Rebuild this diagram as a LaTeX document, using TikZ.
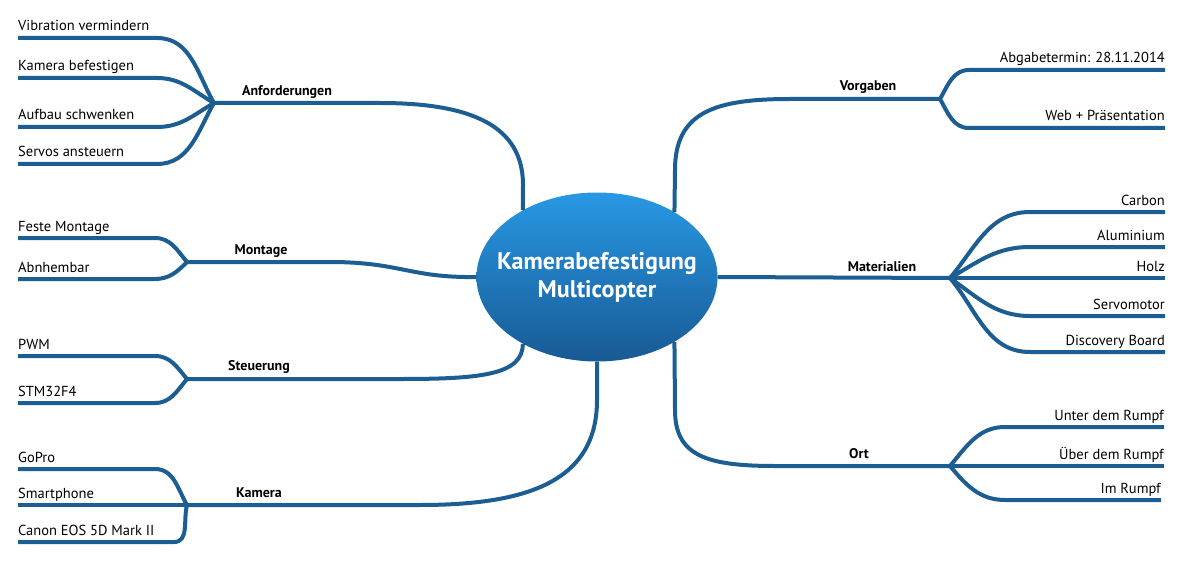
\documentclass[tikz,border=0pt]{standalone}
\usepackage{fontspec}
\setmainfont{PT Sans}
\usetikzlibrary{shapes.geometric}
\definecolor{ast}{RGB}{29,94,146}
\definecolor{kernhell}{RGB}{40,152,228}
\definecolor{kerndunkel}{RGB}{24,90,148}
\begin{document}
\begin{tikzpicture}[x=1pt,y=-1pt,
    zweig/.style={draw=ast,line width=4pt},
    blatt/.style={inner sep=0pt,font=\fontsize{14.5}{16}\selectfont},
    thema/.style={inner sep=0pt,font=\bfseries\fontsize{14}{16}\selectfont}]
      \useasboundingbox (0,0) rectangle (1182,564);

      \node[ellipse,minimum width=241,minimum height=169,inner sep=0pt,
            top color=kernhell,bottom color=kerndunkel] (kern) at (597,277) {};
      \node[text=white,align=center,inner sep=0pt,
            font=\bfseries\fontsize{24}{28}\selectfont] (titel) at (kern.center)
            {Kamerabefestigung\\Multicopter};

      \coordinate (anfJ) at (214,103);
      \coordinate (monJ) at (187,262);
      \coordinate (steJ) at (187,379);
      \coordinate (kamJ) at (187,505);
      \coordinate (vorJ) at (940,99);
      \coordinate (matJ) at (950,278);
      \coordinate (ortJ) at (950,466);

      \node[thema] (anf) at (287,92) {Anforderungen};
      \node[thema] (mon) at (261,251) {Montage};
      \node[thema] (ste) at (259,367) {Steuerung};
      \node[thema] (kam) at (259,493) {Kamera};
      \node[thema] (vor) at (868,87) {Vorgaben};
      \node[thema] (mat) at (882,267) {Materialien};
      \node[thema] (ort) at (859,454) {Ort};

      \draw[zweig] (anfJ) -- (380,103) .. controls (470,103) and (523,125) .. (523,185)
            -- (kern.138);
      \draw[zweig] (monJ) -- (330,262) .. controls (400,262) and (410,278) .. (kern.west);
      \draw[zweig] (steJ) -- (400,379) .. controls (480,379) and (523,375) .. (kern.222);
      \draw[zweig] (kamJ) -- (420,505) .. controls (530,505) and (597,480) .. (597,400)
            -- (kern.south);
      \draw[zweig] (kern.40) -- (675,170) .. controls (675,112) and (715,99) .. (790,99)
            -- (vorJ);
      \draw[zweig] (kern.east) -- (matJ);
      \draw[zweig] (kern.-40) -- (675,410) .. controls (675,455) and (705,466) .. (775,466)
            -- (ortJ);

      \node[blatt,anchor=base west] (vib) at (18,38-7) {Vibration vermindern};
      \node[blatt,anchor=base west] (bef) at (18,78-7) {Kamera befestigen};
      \node[blatt,anchor=base west] (auf) at (18,127-7) {Aufbau schwenken};
      \node[blatt,anchor=base west] (ser) at (18,164-7) {Servos ansteuern};
      \draw[zweig] ([yshift=-7pt]vib.base west) -- (157,38) to[out=0,in=120] (anfJ);
      \draw[zweig] ([yshift=-7pt]bef.base west) -- (157,78) to[out=0,in=150] (anfJ);
      \draw[zweig] ([yshift=-7pt]auf.base west) -- (157,127) to[out=0,in=210] (anfJ);
      \draw[zweig] ([yshift=-7pt]ser.base west) -- (157,164) to[out=0,in=240] (anfJ);

      \node[blatt,anchor=base west] (fes) at (18,238-7) {Feste Montage};
      \node[blatt,anchor=base west] (abn) at (18,279-7) {Abnhembar};
      \draw[zweig] ([yshift=-7pt]fes.base west) -- (155,238) to[out=0,in=130] (monJ);
      \draw[zweig] ([yshift=-7pt]abn.base west) -- (155,279) to[out=0,in=225] (monJ);

      \node[blatt,anchor=base west] (pwm) at (18,356-7) {PWM};
      \node[blatt,anchor=base west] (stm) at (18,403-7) {STM32F4};
      \draw[zweig] ([yshift=-7pt]pwm.base west) -- (155,356) to[out=0,in=130] (steJ);
      \draw[zweig] ([yshift=-7pt]stm.base west) -- (155,403) to[out=0,in=230] (steJ);

      \node[blatt,anchor=base west] (gop) at (18,469-7) {GoPro};
      \node[blatt,anchor=base west] (sma) at (18,505-7) {Smartphone};
      \node[blatt,anchor=base west] (can) at (18,542-7) {Canon EOS 5D Mark II};
      \draw[zweig] ([yshift=-7pt]gop.base west) -- (155,469) to[out=0,in=120] (kamJ);
      \draw[zweig] ([yshift=-7pt]sma.base west) -- (kamJ);
      \draw[zweig] ([yshift=-7pt]can.base west) -- (174,542) to[out=0,in=255] (kamJ);

      \node[blatt,anchor=base east] (abg) at (1165,70-7) {Abgabetermin: 28.11.2014};
      \node[blatt,anchor=base east] (web) at (1165,128-7) {Web + Präsentation};
      \draw[zweig] (vorJ) to[out=60,in=180] (969,70) -- ([yshift=-7pt]abg.base east);
      \draw[zweig] (vorJ) to[out=-60,in=180] (969,128) -- ([yshift=-7pt]web.base east);

      \node[blatt,anchor=base east] (car) at (1165,212-7) {Carbon};
      \node[blatt,anchor=base east] (alu) at (1165,247-7) {Aluminium};
      \node[blatt,anchor=base east] (hol) at (1165,278-7) {Holz};
      \node[blatt,anchor=base east] (svm) at (1165,316-7) {Servomotor};
      \node[blatt,anchor=base east] (dis) at (1165,352-7) {Discovery Board};
      \draw[zweig] (matJ) to[out=50,in=180] (1030,212) -- ([yshift=-7pt]car.base east);
      \draw[zweig] (matJ) to[out=30,in=180] (1030,247) -- ([yshift=-7pt]alu.base east);
      \draw[zweig] (matJ) -- ([yshift=-7pt]hol.base east);
      \draw[zweig] (matJ) to[out=-35,in=180] (1030,316) -- ([yshift=-7pt]svm.base east);
      \draw[zweig] (matJ) to[out=-50,in=180] (1030,352) -- ([yshift=-7pt]dis.base east);

      \node[blatt,anchor=base east] (unt) at (1164,427-7) {Unter dem Rumpf};
      \node[blatt,anchor=base east] (ueb) at (1164,466-7) {Über dem Rumpf};
      \node[blatt,anchor=base east] (imr) at (1161,500-7) {Im Rumpf};
      \draw[zweig] (ortJ) to[out=50,in=180] (1005,427) -- ([yshift=-7pt]unt.base east);
      \draw[zweig] (ortJ) -- ([yshift=-7pt]ueb.base east);
      \draw[zweig] (ortJ) to[out=-50,in=180] (1005,500) -- ([yshift=-7pt]imr.base east);
\end{tikzpicture}
\end{document}
